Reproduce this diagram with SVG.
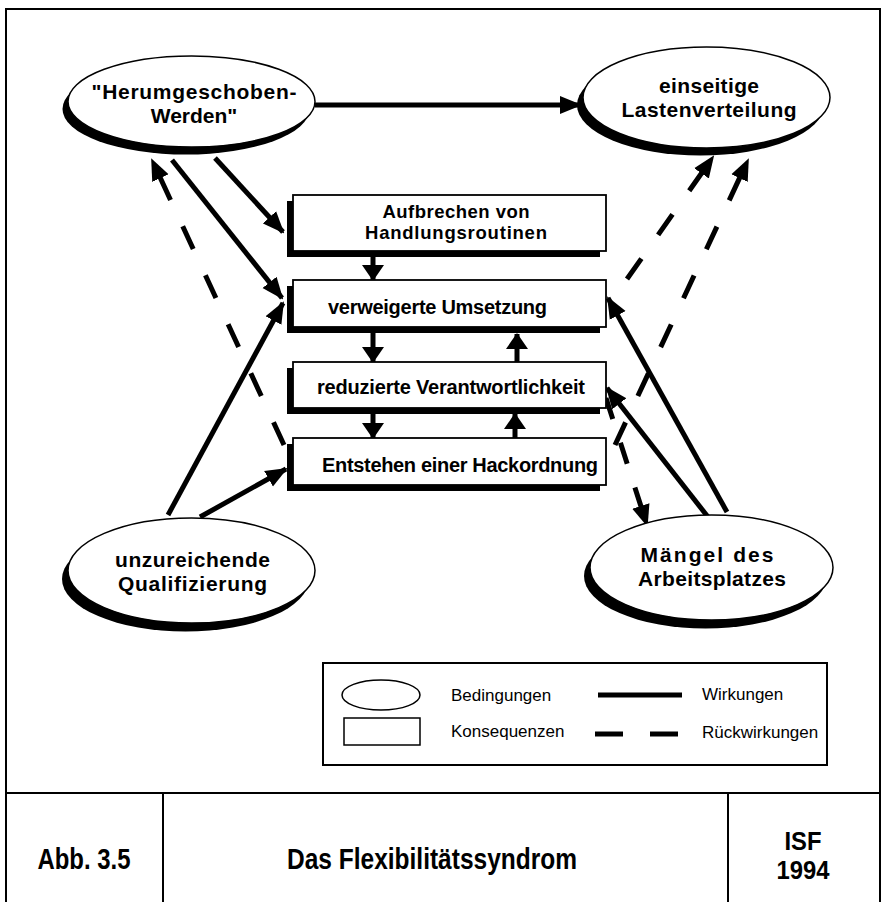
<svg xmlns="http://www.w3.org/2000/svg" width="886" height="902" viewBox="0 0 886 902">
<style>
  .sh{fill:#000}
  .el{fill:#fff;stroke:#000;stroke-width:1.5}
  .bx{fill:#fff;stroke:#000;stroke-width:1.8}
  .t{font-family:"Liberation Sans",Arial,Helvetica,sans-serif;font-weight:bold;fill:#000}
  .te{font-size:21px;text-anchor:middle}
  .tb{font-size:20px}
  .tb2{font-size:18.5px}
  .lg{font-family:"Liberation Sans",Arial,Helvetica,sans-serif;font-size:17px;fill:#000}
  .ft{font-family:"Liberation Sans Narrow","Liberation Sans",Arial,sans-serif;font-weight:bold;font-size:30px;text-anchor:middle;fill:#000}
  .ft2{font-family:"Liberation Sans Narrow","Liberation Sans",Arial,sans-serif;font-weight:bold;font-size:26px;text-anchor:middle;fill:#000}
  .sol{fill:none;stroke:#000;stroke-width:5}
  .dsh{fill:none;stroke:#000;stroke-width:5;stroke-dasharray:25 29}
  .dsh2{fill:none;stroke:#000;stroke-width:5;stroke-dasharray:22 25}
  .frm{fill:none;stroke:#000;stroke-width:2}
</style>
<defs>
  <marker id="ah" markerUnits="userSpaceOnUse" viewBox="0 0 22 20" markerWidth="22" markerHeight="20" refX="20" refY="10" orient="auto">
    <path d="M0,1 L22,10 L0,19 z" fill="#000"/>
  </marker>
  <marker id="ahs" markerUnits="userSpaceOnUse" viewBox="0 0 16 22" markerWidth="16" markerHeight="22" refX="15" refY="11" orient="auto">
    <path d="M0,0 L16,11 L0,22 z" fill="#000"/>
  </marker>
</defs>
<rect width="886" height="902" fill="#fff"/>

<g id="frame">
  <rect class="frm" x="6" y="9" width="874" height="900"/>
  <line class="frm" x1="6" y1="793" x2="880" y2="793"/>
  <line class="frm" x1="163" y1="793" x2="163" y2="902"/>
  <line class="frm" x1="728" y1="793" x2="728" y2="902"/>
  <text class="ft" x="84" y="869" textLength="93" lengthAdjust="spacingAndGlyphs">Abb. 3.5</text>
  <text class="ft" x="432" y="869" textLength="290" lengthAdjust="spacingAndGlyphs">Das Flexibilitätssyndrom</text>
  <text class="ft2" x="803" y="850" textLength="37" lengthAdjust="spacingAndGlyphs">ISF</text>
  <text class="ft2" x="803" y="879" textLength="53" lengthAdjust="spacingAndGlyphs">1994</text>
</g>

<g id="connectors">
  <line class="sol" x1="315" y1="105" x2="580" y2="105" marker-end="url(#ah)"/>
  <line class="sol" x1="215" y1="158" x2="283" y2="232" marker-end="url(#ah)"/>
  <line class="sol" x1="172" y1="160" x2="282" y2="298" marker-end="url(#ah)"/>
  <line class="sol" x1="168" y1="515" x2="283" y2="303" marker-end="url(#ah)"/>
  <line class="sol" x1="200" y1="517" x2="286" y2="469" marker-end="url(#ah)"/>
  <line class="sol" x1="708" y1="517" x2="607" y2="388" marker-end="url(#ah)"/>
  <line class="sol" x1="727" y1="512" x2="608" y2="298" marker-end="url(#ah)"/>
  <line class="dsh" x1="284" y1="445" x2="152" y2="160" marker-end="url(#ah)"/>
  <line class="dsh" x1="627" y1="279" x2="713" y2="157" marker-end="url(#ah)"/>
  <line class="dsh" x1="615" y1="445" x2="748" y2="160" marker-end="url(#ah)"/>
  <line class="dsh2" x1="606" y1="398" x2="647" y2="525" marker-end="url(#ah)"/>
  <line class="sol" x1="373" y1="256" x2="373" y2="280" marker-end="url(#ahs)"/>
  <line class="sol" x1="373" y1="333" x2="373" y2="362" marker-end="url(#ahs)"/>
  <line class="sol" x1="517" y1="362" x2="517" y2="334" marker-end="url(#ahs)"/>
  <line class="sol" x1="373" y1="414" x2="373" y2="438" marker-end="url(#ahs)"/>
  <line class="sol" x1="515" y1="438" x2="515" y2="414" marker-end="url(#ahs)"/>
</g>

<g id="herumgeschoben">
  <ellipse class="sh" cx="186" cy="109" rx="123.5" ry="45.5"/>
  <ellipse class="el" cx="191.5" cy="101.5" rx="123.5" ry="45.5"/>
  <text class="t te" x="194" y="99" textLength="205">"Herumgeschoben-</text>
  <text class="t te" x="194" y="123">Werden"</text>
</g>

<g id="lastenverteilung">
  <ellipse class="sh" cx="700.5" cy="105" rx="123.5" ry="50.5"/>
  <ellipse class="el" cx="706.5" cy="97.5" rx="123.5" ry="50.5"/>
  <text class="t te" x="709" y="93" textLength="100">einseitige</text>
  <text class="t te" x="709" y="117" textLength="175">Lastenverteilung</text>
</g>

<g id="qualifizierung">
  <ellipse class="sh" cx="185.5" cy="579" rx="123.5" ry="52.5"/>
  <ellipse class="el" cx="191.5" cy="570.5" rx="123.5" ry="52.5"/>
  <text class="t te" x="192.5" y="567" textLength="155">unzureichende</text>
  <text class="t te" x="192.5" y="591" textLength="149">Qualifizierung</text>
</g>

<g id="arbeitsplatz">
  <ellipse class="sh" cx="705.5" cy="576" rx="121.5" ry="52.5"/>
  <ellipse class="el" cx="711.5" cy="567.5" rx="121.5" ry="52.5"/>
  <text class="t te" x="707" y="562" textLength="133">Mängel des</text>
  <text class="t te" x="712" y="586" textLength="148">Arbeitsplatzes</text>
</g>

<g id="aufbrechen">
  <rect class="sh" x="287" y="201" width="313" height="56"/>
  <rect class="bx" x="293" y="195" width="313" height="56"/>
  <text class="t tb2" x="456" y="218" text-anchor="middle" textLength="147">Aufbrechen von</text>
  <text class="t tb2" x="456" y="239" text-anchor="middle" textLength="182">Handlungsroutinen</text>
</g>

<g id="umsetzung">
  <rect class="sh" x="287" y="286" width="313" height="47"/>
  <rect class="bx" x="293" y="280" width="313" height="47"/>
  <text class="t tb" x="328" y="314" textLength="219">verweigerte Umsetzung</text>
</g>

<g id="verantwortlichkeit">
  <rect class="sh" x="287" y="368" width="313" height="46"/>
  <rect class="bx" x="293" y="362" width="313" height="46"/>
  <text class="t tb" x="317" y="394" textLength="268">reduzierte Verantwortlichkeit</text>
</g>

<g id="hackordnung">
  <rect class="sh" x="287" y="444" width="313" height="47"/>
  <rect class="bx" x="293" y="438" width="313" height="47"/>
  <text class="t tb" x="322" y="472" textLength="276">Entstehen einer Hackordnung</text>
</g>

<g id="legend">
  <rect class="frm" x="323" y="663" width="504" height="102"/>
  <ellipse class="el" cx="381" cy="695" rx="39" ry="15"/>
  <rect class="el" x="344" y="718" width="76" height="27"/>
  <text class="lg" x="451" y="701">Bedingungen</text>
  <text class="lg" x="451" y="737">Konsequenzen</text>
  <line class="sol" x1="598" y1="695" x2="682" y2="695"/>
  <line fill="none" stroke="#000" stroke-width="5" stroke-dasharray="28 27" x1="595" y1="734" x2="678" y2="734"/>
  <text class="lg" x="702" y="700">Wirkungen</text>
  <text class="lg" x="702" y="738">Rückwirkungen</text>
</g>
</svg>
